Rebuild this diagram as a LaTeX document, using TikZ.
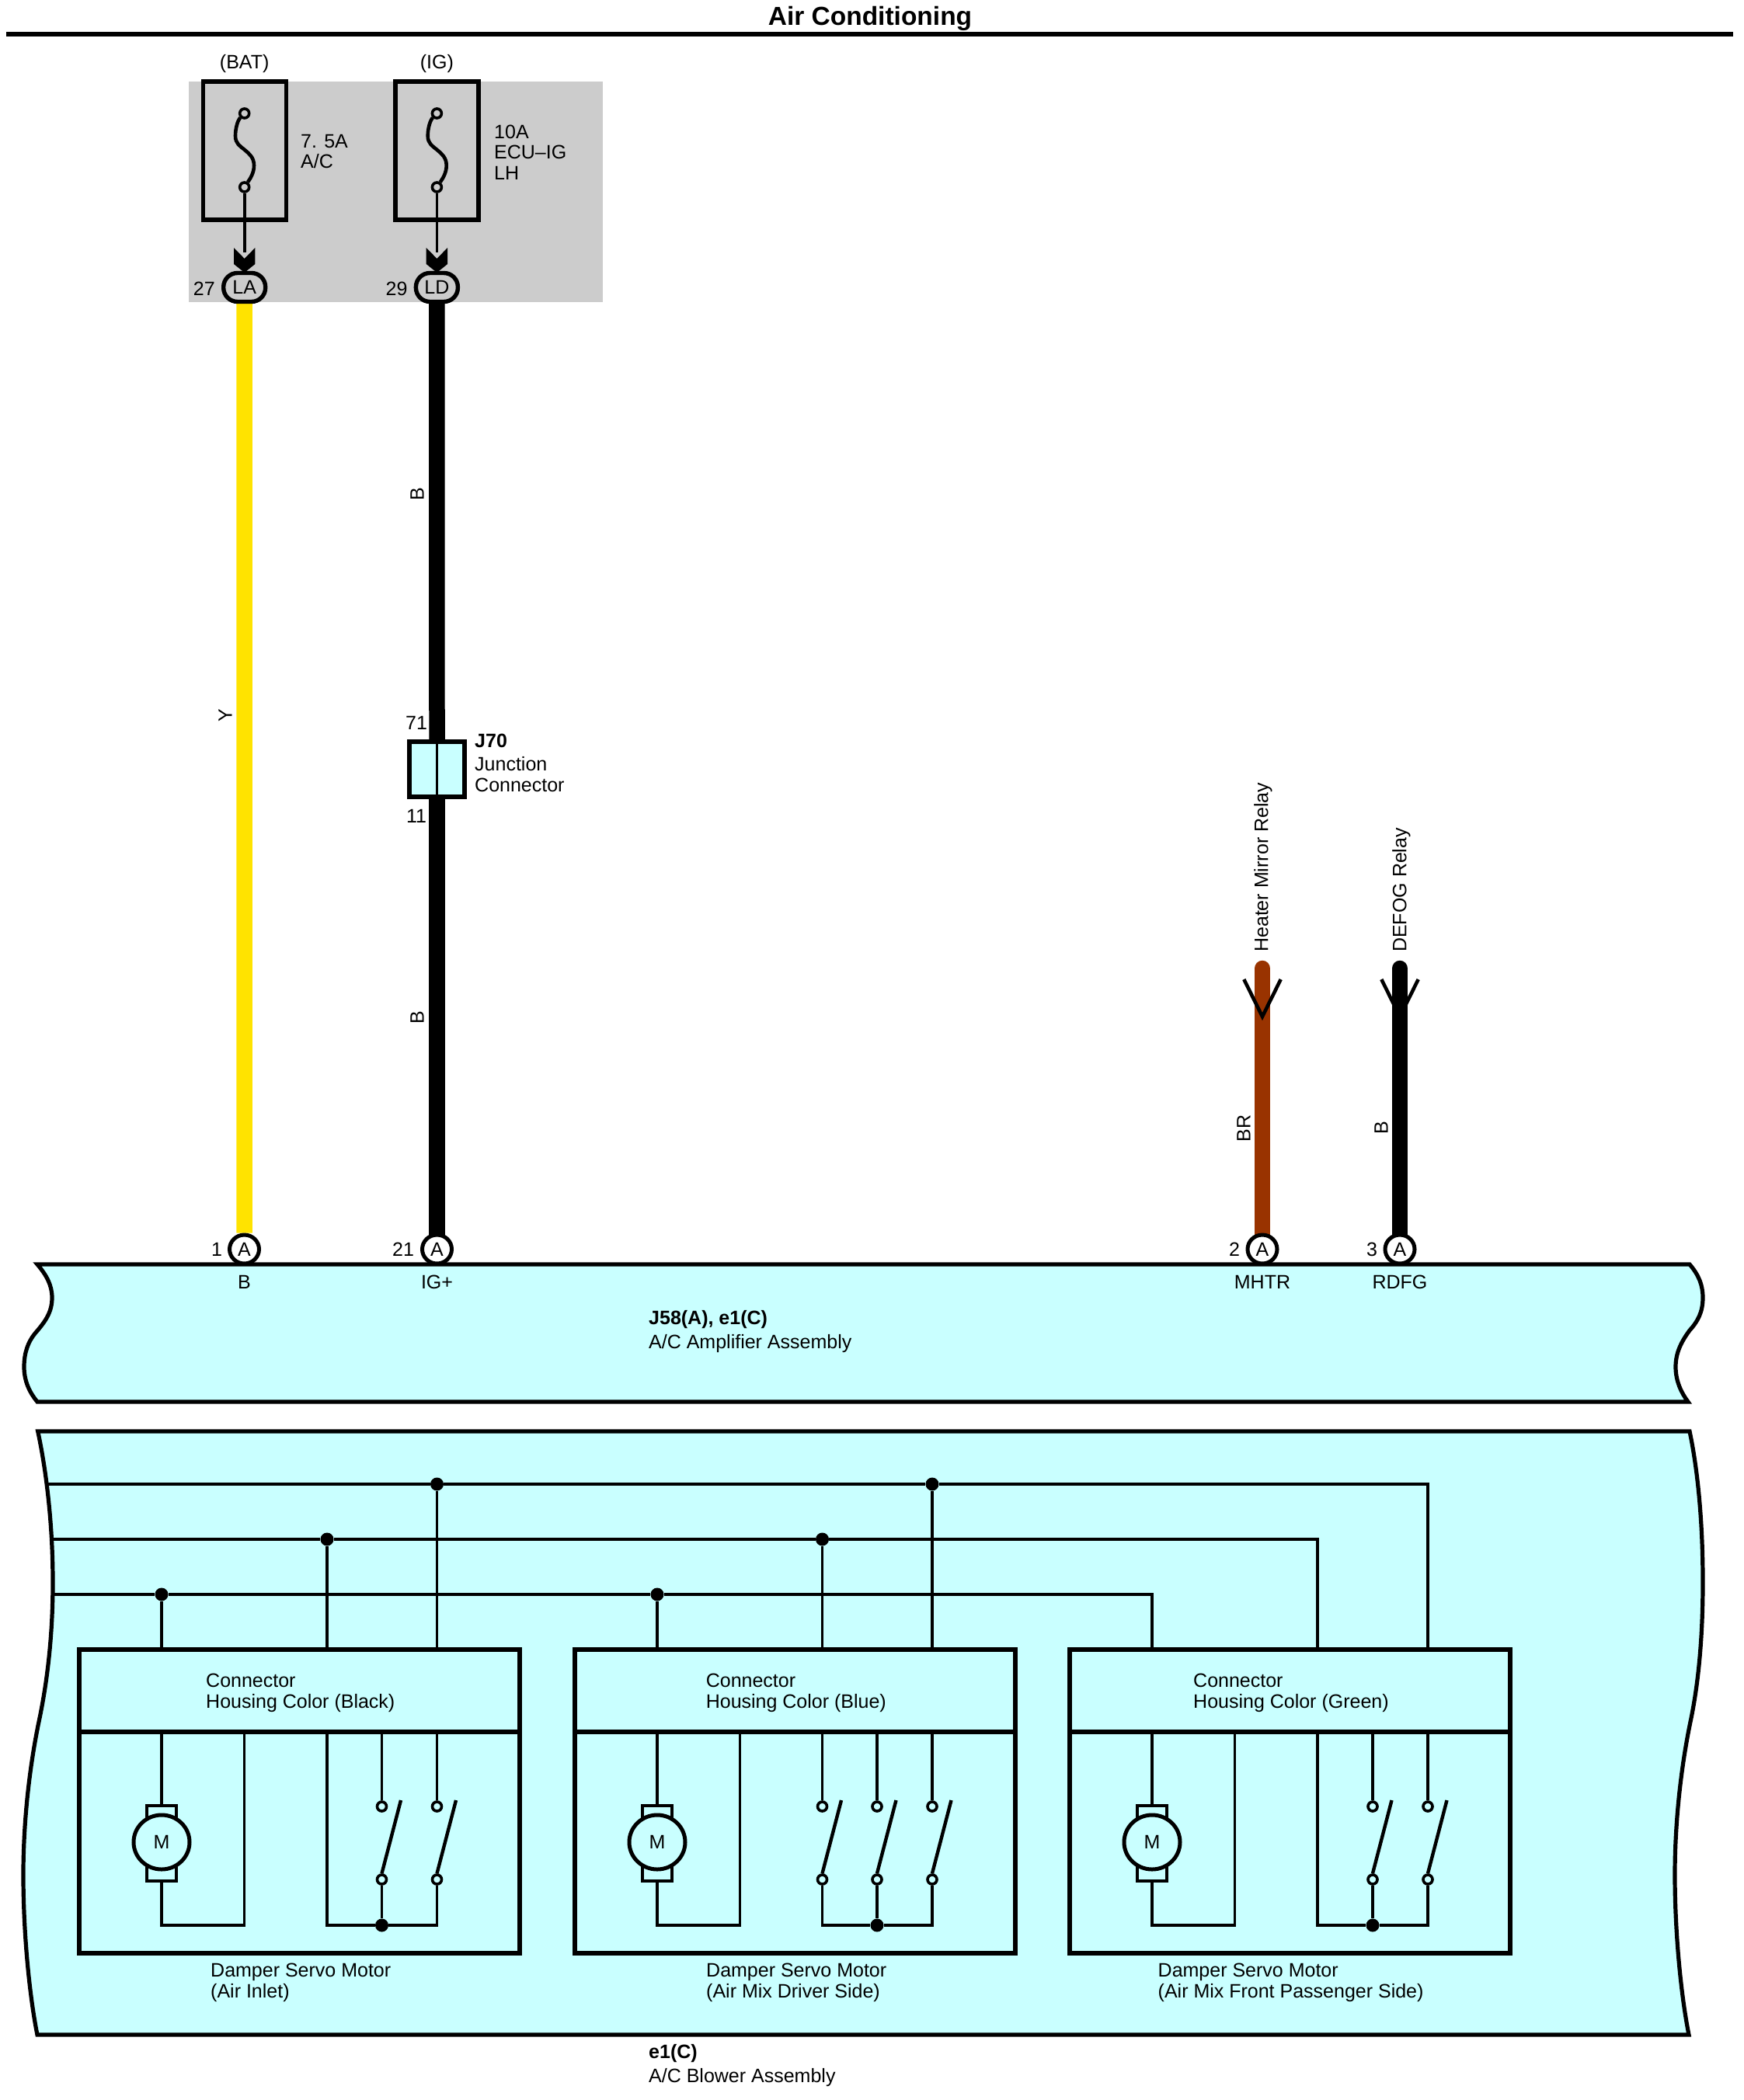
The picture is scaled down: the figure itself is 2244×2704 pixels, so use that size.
\documentclass[tikz,border=0pt]{standalone}
\usepackage{fontspec}
\setmainfont{Liberation Sans}
\usetikzlibrary{shapes.geometric,backgrounds}
\definecolor{panel}{HTML}{C9FFFF}
\definecolor{fusegray}{HTML}{CCCCCC}
\definecolor{wireY}{HTML}{FFE300}
\definecolor{wireBR}{HTML}{993300}
\tikzset{
  txt/.style={inner sep=0pt,font=\fontsize{25}{26.5}\selectfont},
  txtl/.style={txt,anchor=west,align=left},
  boldl/.style={txt,anchor=west,font=\fontsize{25}{26.5}\selectfont\bfseries},
  heavy/.style={line width=5.2pt,line join=miter},
  thinw/.style={line width=3.6pt},
  wirefat/.style={line width=20.5pt},
  pin/.style={ellipse,draw,line width=5pt,fill=white,minimum width=38pt,minimum height=37pt,inner sep=0pt,txt},
  fusepin/.style={rectangle,rounded corners=18pt,draw,line width=5.4pt,minimum width=54pt,minimum height=37pt,inner sep=0pt,txt},
  term/.style={circle,draw,line width=3.6pt,minimum size=12pt,inner sep=0pt},
  dotj/.style={circle,fill=black,minimum size=17pt,inner sep=0pt},
  vhead/.style={line width=4.6pt,line join=miter},
  modbox/.style={rectangle,draw,line width=5.2pt,minimum width=567pt,minimum height=391pt,inner sep=0pt},
  motorc/.style={ellipse,draw,line width=5pt,fill=panel,minimum width=72pt,minimum height=70pt,inner sep=0pt,txt},
  capbox/.style={rectangle,draw,line width=4.4pt,minimum width=38pt,minimum height=22pt,inner sep=0pt},
}
% prefix: motor, return wire and frame of one servo motor (base x positions of the first unit)
\newcommand{\servobase}[1]{%
  \node[modbox] (#1box) at (385.5,2319.5) {};
  \coordinate (#1dv) at (0,2230);
  \coordinate (#1rl) at (0,2479);
  \draw[heavy] (#1box.west |- #1dv) -- (#1box.east |- #1dv);
  \node[capbox] (#1capa) at (208,2336) {};
  \node[capbox] (#1capb) at (208,2411) {};
  \node[motorc] (#1mot) at (208,2372) {M};
  \coordinate (#1ret) at (314.5,2230);
  \draw[thinw] (#1capa.north) -- (#1capa.north |- #1dv);
  \draw[thinw,line join=miter] (#1capb.south) |- (#1ret |- #1rl) -- (#1ret);
}
% prefix, switch name, x
\newcommand{\servoswitch}[3]{%
  \node[term] (#1#2a) at (#3,2326) {};
  \node[term] (#1#2b) at (#3,2420) {};
  \coordinate (#1#2t) at (#3+24.5,2318);
  \draw[thinw] (#1#2a) -- (#1#2a |- #1dv);
  \draw[line width=4.4pt] (#1#2b.north) -- (#1#2t);
}
\begin{document}
\begin{tikzpicture}[x=1pt,y=-1pt]
\useasboundingbox (0,0) rectangle (2244,2704);
% title
\node[txt,font=\fontsize{33.5}{33.5}\selectfont\bfseries] (title) at (1120,24) {Air Conditioning};
\coordinate (ruleL) at (8,44);
\coordinate (ruleR) at (2231,44);
\draw[line width=6pt] (ruleL) -- (ruleR);
% fuse block
\foreach \nm/\dx/\pn/\num/\pl in {a/0/LA/27/(BAT),b/247.7/LD/29/(IG)}{
  \begin{scope}[xshift=\dx pt]
    \node[rectangle,draw,line width=5.2pt,minimum width=107pt,minimum height=178pt,inner sep=0pt] (fb\nm) at (314.7,194) {};
    \node[term,fill=fusegray] (ft\nm) at (314.7,146) {};
    \node[term,fill=fusegray] (fl\nm) at (314.7,241) {};
    \node[fusepin] (con\nm) at (314.7,370) {\pn};
    \node[txt,anchor=east] (num\nm) at (277,371.5) {\num};
    \node[txt] (src\nm) at (314.7,82) {\pl};
    \draw[line width=4.6pt] (ft\nm) .. controls (306,155) and (303,165) .. (303,175)
       .. controls (303,185) and (309,188) .. (315,193)
       .. controls (321,198) and (327,203) .. (327,213)
       .. controls (327,223) and (322,230) .. (fl\nm);
    \draw[thinw] (fl\nm) -- (314.7,325);
    \fill (301,319) -- (314.7,333) -- (328.4,319) -- (328.4,340) -- (314.7,351) -- (301,340) -- cycle;
  \end{scope}
}
\node[txtl] (fl1) at (387,195) {7. 5A\\A/C};
\node[txtl] (fl2) at (636,196) {10A\\ECU–IG\\LH};
% pins
\node[pin] (p1) at (314.5,1608.5) {A};
\node[pin] (p21) at (562.5,1608.5) {A};
\node[pin] (p2) at (1625,1608.5) {A};
\node[pin] (p3) at (1802,1608.5) {A};
\node[txt] (n1) at (279,1609) {1};
\node[txt] (n21) at (519,1609) {21};
\node[txt] (n2) at (1589,1609) {2};
\node[txt] (n3) at (1766,1609) {3};
% junction connector
\node[rectangle,draw,fill=panel,line width=5.2pt,minimum width=71pt,minimum height=71pt,inner sep=0pt] (jc) at (562.5,990.5) {};
\draw[line width=3.6pt] (jc.north) -- (jc.south);
\node[txt] (n71) at (536,931) {71};
\node[txt] (n11) at (536,1051) {11};
\node[boldl] (j70) at (611,954) {J70};
\node[txtl] (jcl) at (611,997) {Junction\\Connector};
% wires
\coordinate (topBR) at (1625,1247);
\coordinate (topB) at (1802,1247);
\begin{scope}[on background layer]
  \fill[fusegray] (243,105) rectangle (776,389);
  \draw[wirefat,wireY] (cona.south) -- (p1.north);
  \draw[wirefat] (conb.south) -- (jc.north);
  \draw[wirefat] (jc.south) -- (p21.center);
  \draw[wirefat,wireBR,line cap=round] (topBR) -- (p2.center);
  \draw[wirefat,line cap=round] (topB) -- (p3.center);
\end{scope}
\draw[vhead] (1601.3,1261) -- (1625,1309) -- (1648.7,1261);
\draw[vhead] (1778.3,1261) -- (1802,1309) -- (1825.7,1261);
\node[txt,rotate=90] (lY) at (290,921) {Y};
\node[txt,rotate=90] (lB1) at (537,636) {B};
\node[txt,rotate=90] (lB2) at (537,1310) {B};
\node[txt,rotate=90] (lBR) at (1601,1453) {BR};
\node[txt,rotate=90] (lB3) at (1778,1452) {B};
\node[txt,rotate=90,anchor=west] (lHM) at (1626,1226) {Heater Mirror Relay};
\node[txt,rotate=90,anchor=west] (lDF) at (1804,1226) {DEFOG Relay};
% amplifier band
\draw[heavy,fill=panel] (48,1628) .. controls (60,1642) and (67,1655) .. (67,1671)
  .. controls (67,1690) and (58,1702) .. (45,1717)
  .. controls (36,1728) and (31,1742) .. (31,1760)
  .. controls (31,1778) and (38,1793) .. (48,1805)
  -- (2173,1805) .. controls (2164,1793) and (2157,1778) .. (2157,1760)
  .. controls (2157,1742) and (2164,1728) .. (2175,1713)
  .. controls (2185,1702) and (2192,1690) .. (2192,1671)
  .. controls (2192,1655) and (2187,1642) .. (2175,1628) -- cycle;
\node[txt] (pB) at (314.5,1651) {B};
\node[txt] (pIG) at (562.5,1651) {IG+};
\node[txt] (pMH) at (1625,1651) {MHTR};
\node[txt] (pRD) at (1802,1651) {RDFG};
\node[boldl] (ampa) at (835,1699) {J58(A), e1(C)};
\node[txtl] (ampb) at (835,1730) {A/C Amplifier Assembly};
% blower panel
\draw[heavy,fill=panel] (48.7,1843) .. controls (61,1900) and (68,1970) .. (68,2037)
  .. controls (68,2110) and (60,2170) .. (50,2217)
  .. controls (38,2275) and (30,2345) .. (30,2414)
  .. controls (30,2490) and (38,2570) .. (48,2620)
  -- (2174,2620) .. controls (2164,2570) and (2156,2490) .. (2156,2414)
  .. controls (2156,2345) and (2164,2275) .. (2176,2217)
  .. controls (2186,2170) and (2192,2110) .. (2192,2037)
  .. controls (2192,1970) and (2187,1900) .. (2175,1843) -- cycle;
\node[boldl] (blwa) at (835,2644) {e1(C)};
\node[txtl] (blwb) at (835,2675) {A/C Blower Assembly};
% bus lines
\coordinate (busA) at (60,1911);
\coordinate (busB) at (67,1982);
\coordinate (busC) at (68,2053);
\node[dotj] (a1) at (562.5,1911) {};
\node[dotj] (a2) at (1200,1911) {};
\node[dotj] (b1) at (421,1982) {};
\node[dotj] (b2) at (1058.5,1982) {};
\node[dotj] (c1) at (208,2053) {};
\node[dotj] (c2) at (846,2053) {};
% module 1
\begin{scope}
  \servobase{x}
  \servoswitch{x}{s}{491.5}
  \servoswitch{x}{u}{562.5}
  \node[txtl] (xc) at (265,2180) {Connector\\Housing Color (Black)};
  \node[txtl] (xd) at (271,2553) {Damper Servo Motor\\(Air Inlet)};
\end{scope}
\coordinate (xl) at (421,2479);
\node[dotj] (xj) at (491.5,2479) {};
\draw[thinw,line join=miter] (xl |- xdv) -- (xl) -- (xj) -| (xub.south);
\draw[thinw] (xsb.south) -- (xj);
% module 2
\begin{scope}[xshift=638pt]
  \servobase{y}
  \servoswitch{y}{s}{420.5}
  \servoswitch{y}{t}{491}
  \servoswitch{y}{u}{562}
  \node[txtl] (yc) at (270.6,2180) {Connector\\Housing Color (Blue)};
  \node[txtl] (yd) at (271,2553) {Damper Servo Motor\\(Air Mix Driver Side)};
\end{scope}
\node[dotj] (yj) at (1129,2479) {};
\draw[thinw,line join=miter] (ysb.south) |- (yj) -| (yub.south);
\draw[thinw] (ytb.south) -- (yj);
% module 3
\begin{scope}[xshift=1275pt]
  \servobase{z}
  \servoswitch{z}{s}{492}
  \servoswitch{z}{u}{563}
  \node[txtl] (zc) at (261,2180) {Connector\\Housing Color (Green)};
  \node[txtl] (zd) at (215.5,2553) {Damper Servo Motor\\(Air Mix Front Passenger Side)};
\end{scope}
\coordinate (zl) at (1696,2479);
\node[dotj] (zj) at (1767,2479) {};
\draw[thinw,line join=miter] (zl |- zdv) -- (zl) -- (zj) -| (zub.south);
\draw[thinw] (zsb.south) -- (zj);
% bus wiring
\draw[thinw,line join=miter] (busA) -- (a1) -- (a2) -| (zub |- zbox.north);
\draw[thinw,line join=miter] (busB) -- (b1) -- (b2) -| (zl |- zbox.north);
\draw[thinw,line join=miter] (busC) -- (c1) -- (c2) -| (zmot |- zbox.north);
\draw[thinw] (a1) -- (a1 |- xbox.north);
\draw[thinw] (a2) -- (a2 |- ybox.north);
\draw[thinw] (b1) -- (b1 |- xbox.north);
\draw[thinw] (b2) -- (b2 |- ybox.north);
\draw[thinw] (c1) -- (c1 |- xbox.north);
\draw[thinw] (c2) -- (c2 |- ybox.north);
\end{tikzpicture}
\end{document}
